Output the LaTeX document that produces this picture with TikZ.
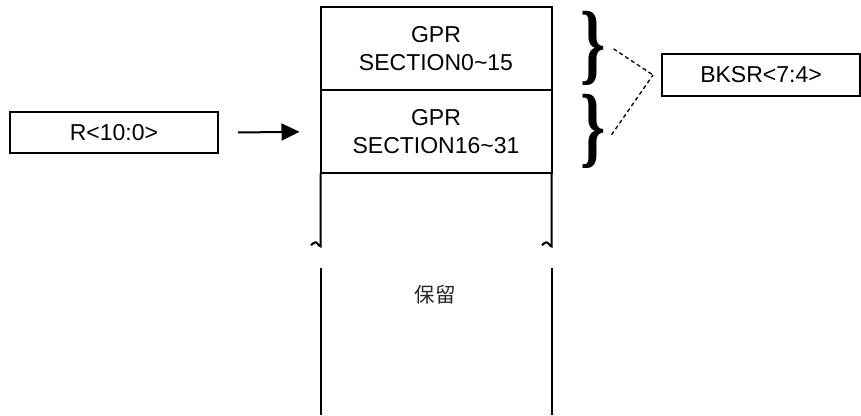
\documentclass[tikz,border=0pt]{standalone}
\usepackage{fontspec}
\setmainfont{Liberation Sans}
\newfontfamily\cjk{Noto Sans CJK SC}
\newfontfamily\bracefont{Liberation Serif}
\usetikzlibrary{positioning, arrows.meta, calc}

\newcommand{\bigbrace}{\scalebox{1}[1.4]{\bracefont\bfseries\fontsize{64}{64}\selectfont\}}}

\begin{document}
\begin{tikzpicture}[
  x=1pt, y=-1pt,
  font=\fontsize{23}{28}\selectfont,
  >={Triangle[length=18pt,width=17pt]},
  regbox/.style={
    draw=black, line width=2pt, align=center,
    inner sep=0pt, minimum height=41pt
  },
  memcell/.style={regbox, outer sep=0pt, minimum width=231pt, minimum height=83pt},
  wall/.style={line width=2pt},
  link/.style={line width=1.3pt, dash pattern=on 4pt off 3pt},
]
\useasboundingbox (0,0) rectangle (861,415);

% memory map
\node[memcell] (sec0) at (436,48.8) {GPR\\SECTION0\textasciitilde 15};
\node[memcell, below=0pt of sec0] (sec1) {GPR\\SECTION16\textasciitilde 31};
\node[font=\cjk\fontsize{20.5}{24}\selectfont, text=black!85] (rsvd) at (435,295) {保留};

\foreach \c in {west,east}{
  \draw[wall] (sec1.south \c) -- ++(0,73) coordinate (brk)
    cos ++(-2.5,-2) sin ++(-2.5,-2) cos ++(-4.5,3);
  \draw[wall] (sec1.south \c |- 0,268) coordinate (rest) -- (rest |- 0,415);
}

% address register
\node[regbox, minimum width=208pt] (addr) at (114,132.5) {R<10:0>};
\draw[->, line width=2pt] ([xshift=19pt]addr.east) -- ([xshift=-21pt]sec1.west);

% bank select
\node[regbox, minimum width=198pt, minimum height=42pt] (bksr) at (761,75) {BKSR<7:4>};
\node[inner sep=0pt] (brace0) at ([xshift=42pt]sec0.east) {\bigbrace};
\node[inner sep=0pt] (brace1) at ([xshift=42pt]sec1.east) {\bigbrace};
\coordinate (joint) at ([xshift=-8pt]bksr.west);
\draw[link] ([xshift=20pt]brace0.center) -- (joint);
\draw[link] ([xshift=18pt,yshift=-3pt]brace1.center) -- (joint);

\end{tikzpicture}
\end{document}
